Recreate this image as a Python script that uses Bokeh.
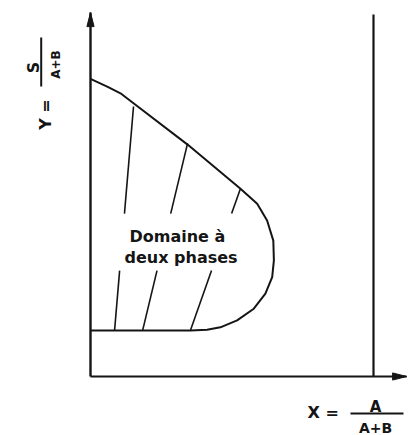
from math import pi

from bokeh.plotting import figure
from bokeh.models import Range1d, Label
from bokeh.embed import file_html
from bokeh.resources import INLINE

# Ternary system drawn in Janecke coordinates: X = A/(A+B), Y = S/(A+B)
# Boundary of the two-phase region, from the Y axis round the bulge and back
boundary_x = [0.000, 0.059, 0.106, 0.152, 0.343, 0.530, 0.589, 0.624, 0.646,
              0.648, 0.642, 0.618, 0.577, 0.518, 0.459, 0.412, 0.353, 0.000]
boundary_y = [0.992, 0.966, 0.944, 0.911, 0.773, 0.626, 0.576, 0.520, 0.453,
              0.387, 0.331, 0.276, 0.226, 0.187, 0.164, 0.156, 0.153, 0.153]

# Tie lines: extract end (top) to raffinate end (bottom)
tie_top_x = [0.152, 0.343, 0.530]
tie_top_y = [0.900, 0.777, 0.627]
tie_bot_x = [0.085, 0.184, 0.353]
tie_bot_y = [0.153, 0.153, 0.153]

# Vertical band where the tie lines are interrupted by the region label
gap_hi, gap_lo = 0.543, 0.353

# Axes and the pure-A line (X = 1)
y_axis_top = 1.213
x_axis_end = 1.117
pure_a_x = 1.0
pure_a_top = 1.207

# Canvas geometry: origin pixel and pixels per unit
W, H = 409, 435
X0, Y0 = 90, 376
SX, SY = 283.0, 300.0


def ux(px):
    return (px - X0) / SX


def uy(py):
    return (Y0 - py) / SY


INK = "#151515"
FONT = "DejaVu Sans"

p = figure(width=W, height=H, output_backend="svg", toolbar_location=None,
           x_range=Range1d(ux(0), ux(W)), y_range=Range1d(uy(H), uy(0)),
           x_axis_location=None, y_axis_location=None, min_border=0)
p.grid.visible = False
p.outline_line_color = None
p.background_fill_color = "white"
p.border_fill_color = "white"

# Axes drawn as plain lines ending in arrow heads
p.line([0, 0], [0, y_axis_top], line_color=INK, line_width=2.4)
p.line([0, x_axis_end], [0, 0], line_color=INK, line_width=2.2)
p.line([pure_a_x, pure_a_x], [0, pure_a_top], line_color=INK, line_width=2.2)

head_len, head_half = 14, 3.6
p.patches(
    [[0, ux(X0 - head_half), ux(X0 + head_half)],
     [x_axis_end, x_axis_end - head_len / SX, x_axis_end - head_len / SX]],
    [[y_axis_top, y_axis_top - head_len / SY, y_axis_top - head_len / SY],
     [0, head_half / SY, -head_half / SY]],
    fill_color=INK, line_color=INK, line_width=1)

# Two-phase boundary
p.line(boundary_x, boundary_y, line_color=INK, line_width=2.0,
       line_join="round")

# Tie lines, broken where the label sits
seg_x0, seg_y0, seg_x1, seg_y1 = [], [], [], []
for xt, yt, xb, yb in zip(tie_top_x, tie_top_y, tie_bot_x, tie_bot_y):
    def at(y):
        return xb + (xt - xb) * (y - yb) / (yt - yb)
    seg_x0 += [xt, at(gap_lo)]
    seg_y0 += [yt, gap_lo]
    seg_x1 += [at(gap_hi), xb]
    seg_y1 += [gap_hi, yb]
p.segment(seg_x0, seg_y0, seg_x1, seg_y1, line_color=INK, line_width=1.6)

# Region label
for txt, px, py in [("Domaine à", 129, 236), ("deux phases", 124, 257)]:
    p.add_layout(Label(x=ux(px), y=uy(py), text=txt, text_font=FONT,
                       text_font_style="bold", text_font_size="16px",
                       text_color=INK, text_align="left",
                       text_baseline="alphabetic"))

# X axis title: X = A / (A+B)
p.add_layout(Label(x=ux(307), y=uy(412), text="X =", text_font=FONT,
                   text_font_style="bold", text_font_size="16px",
                   text_color=INK, text_align="left", text_baseline="middle"))
p.add_layout(Label(x=ux(375), y=uy(406), text="A", text_font=FONT,
                   text_font_style="bold", text_font_size="15px",
                   text_color=INK, text_align="center",
                   text_baseline="alphabetic"))
p.add_layout(Label(x=ux(375), y=uy(427), text="A+B", text_font=FONT,
                   text_font_style="bold", text_font_size="14px",
                   text_color=INK, text_align="center",
                   text_baseline="alphabetic"))
p.line([ux(350), ux(403)], [uy(413), uy(413)], line_color=INK, line_width=2)

# Y axis title, rotated: Y = S / (A+B)
p.add_layout(Label(x=ux(45), y=uy(114), text="Y =", text_font=FONT,
                   text_font_style="bold", text_font_size="16px",
                   text_color=INK, text_align="center",
                   text_baseline="alphabetic", angle=pi / 2))
p.add_layout(Label(x=ux(33), y=uy(67), text="S", text_font=FONT,
                   text_font_style="bold", text_font_size="16px",
                   text_color=INK, text_align="center",
                   text_baseline="alphabetic", angle=pi / 2))
p.add_layout(Label(x=ux(55.5), y=uy(64), text="A+B", text_font=FONT,
                   text_font_style="bold", text_font_size="12px",
                   text_color=INK, text_align="center",
                   text_baseline="alphabetic", angle=pi / 2))
p.line([ux(40.7), ux(40.7)], [uy(37), uy(86)], line_color=INK, line_width=2)

open("out.html", "w").write(file_html(p, INLINE))
